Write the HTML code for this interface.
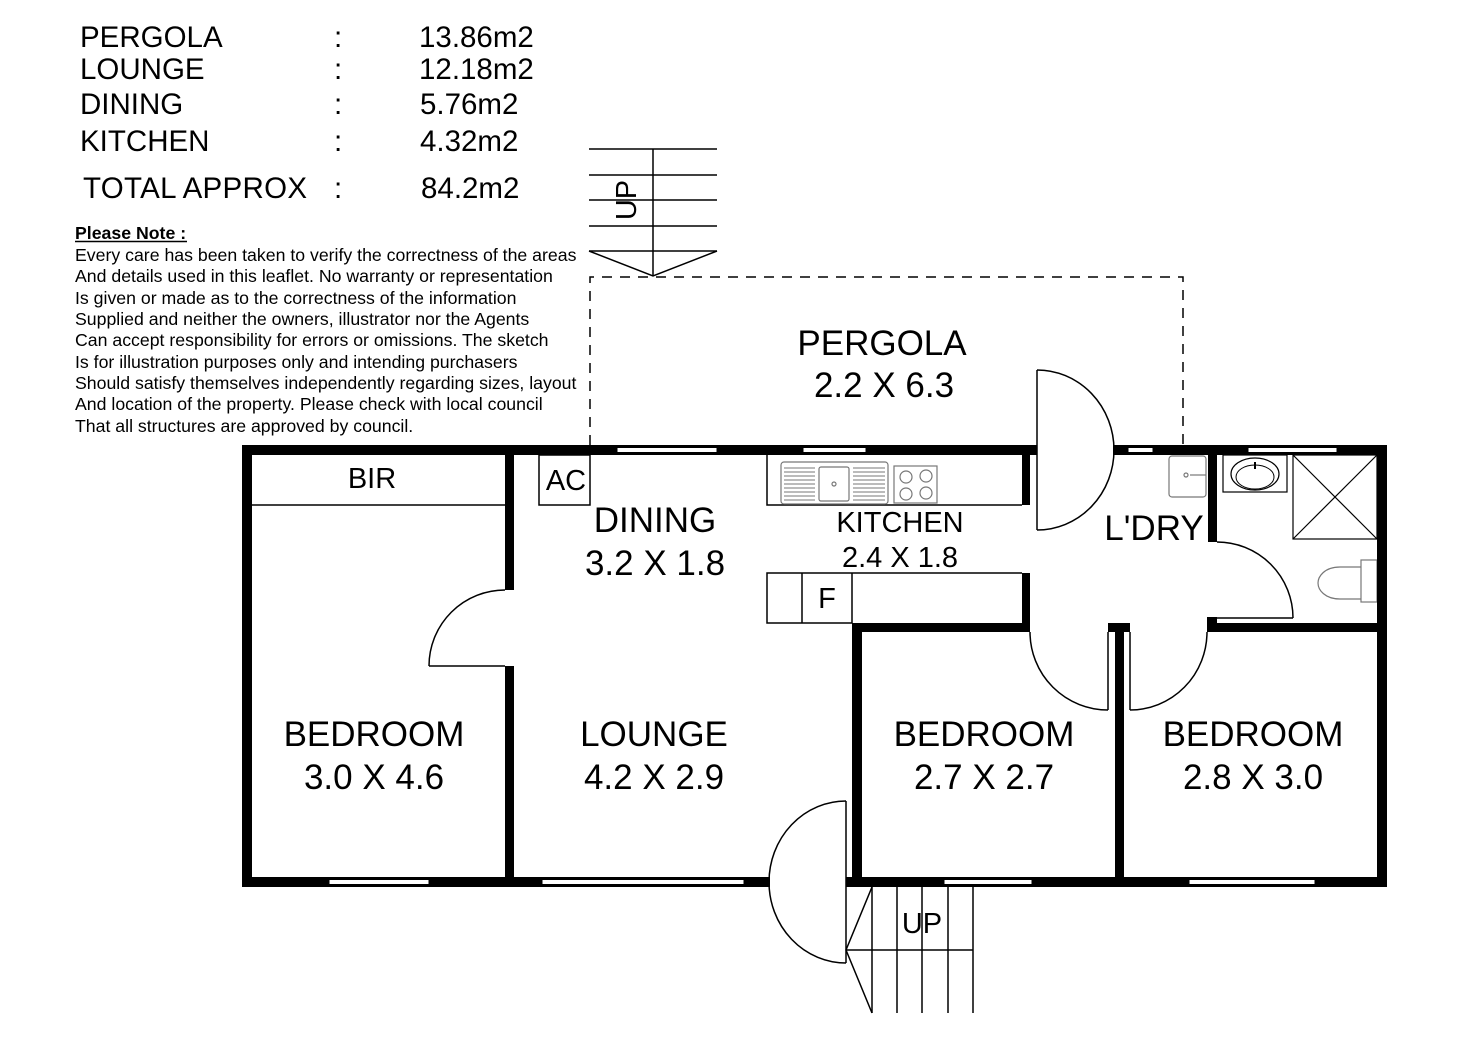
<!DOCTYPE html>
<html>
<head>
<meta charset="utf-8">
<style>
  html,body{margin:0;padding:0;background:#fff;}
  svg{display:block;}
  text{font-family:"Liberation Sans",Arial,sans-serif;fill:#000;}
</style>
</head>
<body>
<svg width="1472" height="1039" viewBox="0 0 1472 1039" xmlns="http://www.w3.org/2000/svg">
  <rect width="1472" height="1039" fill="#fff"/>

  <!-- Area table -->
  <g font-size="29.5">
    <text x="80" y="47">PERGOLA</text>
    <text x="80" y="79">LOUNGE</text>
    <text x="80" y="114">DINING</text>
    <text x="80" y="151">KITCHEN</text>
    <text x="83" y="198" textLength="224" lengthAdjust="spacing">TOTAL APPROX</text>
    <text x="334" y="47">:</text>
    <text x="334" y="79">:</text>
    <text x="334" y="114">:</text>
    <text x="334" y="151">:</text>
    <text x="334" y="198">:</text>
    <text x="419" y="47">13.86m2</text>
    <text x="419" y="79">12.18m2</text>
    <text x="420" y="114">5.76m2</text>
    <text x="420" y="151">4.32m2</text>
    <text x="421" y="198">84.2m2</text>
  </g>

  <!-- Note -->
  <g font-size="17.7">
    <text x="75" y="239" font-weight="bold">Please Note :</text>
    <line x1="75" y1="241.5" x2="187" y2="241.5" stroke="#000" stroke-width="1.5"/>
    <text x="75" y="261">Every care has been taken to verify the correctness of the areas</text>
    <text x="75" y="282">And details used in this leaflet. No warranty or representation</text>
    <text x="75" y="304">Is given or made as to the correctness of the information</text>
    <text x="75" y="325">Supplied and neither the owners, illustrator nor the Agents</text>
    <text x="75" y="346">Can accept responsibility for errors or omissions. The sketch</text>
    <text x="75" y="368">Is for illustration purposes only and intending purchasers</text>
    <text x="75" y="389">Should satisfy themselves independently regarding sizes, layout</text>
    <text x="75" y="410">And location of the property. Please check with local council</text>
    <text x="75" y="432">That all structures are approved by council.</text>
  </g>

  <!-- Top stairs -->
  <g stroke="#000" stroke-width="1.5" fill="none">
    <line x1="589" y1="149" x2="717" y2="149"/>
    <line x1="589" y1="175" x2="717" y2="175"/>
    <line x1="589" y1="200" x2="717" y2="200"/>
    <line x1="589" y1="226" x2="717" y2="226"/>
    <line x1="589" y1="251" x2="717" y2="251"/>
    <line x1="653" y1="149" x2="653" y2="276"/>
    <polyline points="589,251 653,276 717,251"/>
  </g>
  <text x="0" y="0" font-size="29" text-anchor="middle" transform="translate(636,200) rotate(-90)">UP</text>

  <!-- Pergola dashed outline -->
  <path d="M590,445 V277 H1183 V446" fill="none" stroke="#000" stroke-width="1.5" stroke-dasharray="10,8"/>

  <!-- Fixtures (thin lines) -->
  <g fill="none" stroke="#000" stroke-width="1.5">
    <line x1="252" y1="505" x2="505" y2="505"/>
    <rect x="539" y="455" width="51" height="50"/>
    <polyline points="767,455 767,505 1022,505"/>
    <polyline points="852,623 767,623 767,573 1022,573"/>
    <line x1="802" y1="573" x2="802" y2="623"/>
    <line x1="852" y1="573" x2="852" y2="623"/>
    <line x1="429" y1="666" x2="505" y2="666"/>
    <path d="M429,666 A76,76 0 0 1 505,590"/>
    <line x1="1037" y1="370" x2="1037" y2="530"/>
    <path d="M1037,370 A77,80 0 0 1 1037,530"/>
    <line x1="846" y1="801" x2="846" y2="963"/>
    <path d="M846,801 A77,81 0 0 0 846,963"/>
    <line x1="1108" y1="632" x2="1108" y2="710"/>
    <path d="M1108,710 A78,78 0 0 1 1030,632"/>
    <line x1="1130" y1="632" x2="1130" y2="710"/>
    <path d="M1130,710 A77,78 0 0 0 1207,632"/>
    <line x1="1217" y1="618" x2="1293" y2="618"/>
    <path d="M1293,618 A76,76 0 0 0 1217,542"/>
    <line x1="872" y1="887" x2="872" y2="1013"/>
    <line x1="897" y1="887" x2="897" y2="1013"/>
    <line x1="922" y1="887" x2="922" y2="1013"/>
    <line x1="948" y1="887" x2="948" y2="1013"/>
    <line x1="973" y1="887" x2="973" y2="1013"/>
    <line x1="846" y1="950" x2="973" y2="950"/>
    <polyline points="872,887 846,950 872,1013"/>
    <rect x="1223" y="455" width="64" height="37" stroke-width="1.2"/>
    <ellipse cx="1255" cy="474" rx="24" ry="16" stroke-width="1.2"/>
    <ellipse cx="1255" cy="477" rx="19" ry="12" stroke-width="1"/>
    <line x1="1255" y1="462" x2="1255" y2="469" stroke-width="2"/>
    <rect x="1293" y="455" width="84" height="84" stroke-width="1.2"/>
    <line x1="1293" y1="455" x2="1377" y2="539" stroke-width="1.2"/>
    <line x1="1377" y1="455" x2="1293" y2="539" stroke-width="1.2"/>
  </g>

  <!-- Grey fixtures -->
  <g fill="none" stroke="#777" stroke-width="1.2">
    <rect x="781" y="462" width="107" height="42" rx="3"/>
    <rect x="819" y="467" width="30" height="34" rx="2"/>
    <circle cx="834" cy="484" r="2"/>
    <g stroke-width="1">
      <line x1="784" y1="468" x2="815" y2="468"/><line x1="784" y1="472" x2="815" y2="472"/>
      <line x1="784" y1="476" x2="815" y2="476"/><line x1="784" y1="480" x2="815" y2="480"/>
      <line x1="784" y1="484" x2="815" y2="484"/><line x1="784" y1="488" x2="815" y2="488"/>
      <line x1="784" y1="492" x2="815" y2="492"/><line x1="784" y1="496" x2="815" y2="496"/>
      <line x1="784" y1="500" x2="815" y2="500"/>
      <line x1="853" y1="468" x2="885" y2="468"/><line x1="853" y1="472" x2="885" y2="472"/>
      <line x1="853" y1="476" x2="885" y2="476"/><line x1="853" y1="480" x2="885" y2="480"/>
      <line x1="853" y1="484" x2="885" y2="484"/><line x1="853" y1="488" x2="885" y2="488"/>
      <line x1="853" y1="492" x2="885" y2="492"/><line x1="853" y1="496" x2="885" y2="496"/>
      <line x1="853" y1="500" x2="885" y2="500"/>
    </g>
    <rect x="894" y="466" width="43" height="37"/>
    <circle cx="906" cy="477" r="6"/>
    <circle cx="926" cy="476" r="6"/>
    <circle cx="906" cy="494" r="6"/>
    <circle cx="926" cy="493" r="6"/>
    <rect x="1169" y="456" width="37" height="41" rx="3"/>
    <circle cx="1186" cy="475" r="2"/>
    <line x1="1190" y1="475" x2="1206" y2="475"/>
    <rect x="1361" y="560" width="16" height="42"/>
    <path d="M1361,567 H1340 C1324,567 1318,577 1318,583 C1318,590 1325,599 1340,599 H1361"/>
  </g>

  <!-- Walls -->
  <g fill="#000">
    <rect x="242" y="445" width="795" height="10"/>
    <rect x="1113" y="445" width="274" height="10"/>
    <rect x="242" y="877" width="528" height="10"/>
    <rect x="846" y="877" width="541" height="10"/>
    <rect x="242" y="445" width="10" height="442"/>
    <rect x="1377" y="445" width="10" height="442"/>
    <rect x="505" y="455" width="9" height="135"/>
    <rect x="505" y="666" width="9" height="212"/>
    <rect x="1022" y="455" width="8" height="50"/>
    <rect x="1022" y="573" width="8" height="59"/>
    <rect x="852" y="623" width="178" height="9"/>
    <rect x="852" y="623" width="10" height="255"/>
    <rect x="1115" y="632" width="9" height="246"/>
    <rect x="1108" y="623" width="22" height="9"/>
    <rect x="1207" y="623" width="180" height="9"/>
    <rect x="1207" y="617" width="10" height="15"/>
    <rect x="1208" y="455" width="9" height="87"/>
  </g>

  <!-- Windows -->
  <g fill="#fff" stroke="#000" stroke-width="1">
    <rect x="617" y="447.5" width="100" height="5"/>
    <rect x="803" y="447.5" width="63" height="5"/>
    <rect x="1128" y="447.5" width="25" height="5"/>
    <rect x="1248" y="447.5" width="89" height="5"/>
    <rect x="329" y="879.5" width="100" height="5"/>
    <rect x="542" y="879.5" width="202" height="5"/>
    <rect x="944" y="879.5" width="88" height="5"/>
    <rect x="1189" y="879.5" width="126" height="5"/>
  </g>

  <!-- Room labels -->
  <g font-size="35" text-anchor="middle">
    <text x="882" y="355">PERGOLA</text>
    <text x="884" y="397">2.2 X 6.3</text>
    <text x="655" y="532">DINING</text>
    <text x="655" y="575">3.2 X 1.8</text>
    <text x="1154" y="540">L'DRY</text>
    <text x="374" y="746">BEDROOM</text>
    <text x="374" y="789">3.0 X 4.6</text>
    <text x="654" y="746">LOUNGE</text>
    <text x="654" y="789">4.2 X 2.9</text>
    <text x="984" y="746">BEDROOM</text>
    <text x="984" y="789">2.7 X 2.7</text>
    <text x="1253" y="746">BEDROOM</text>
    <text x="1253" y="789">2.8 X 3.0</text>
  </g>
  <g font-size="29" text-anchor="middle">
    <text x="900" y="532">KITCHEN</text>
    <text x="900" y="567">2.4 X 1.8</text>
    <text x="372" y="488">BIR</text>
    <text x="566" y="490">AC</text>
    <text x="827" y="608">F</text>
    <text x="922" y="933">UP</text>
  </g>
</svg>
</body>
</html>
